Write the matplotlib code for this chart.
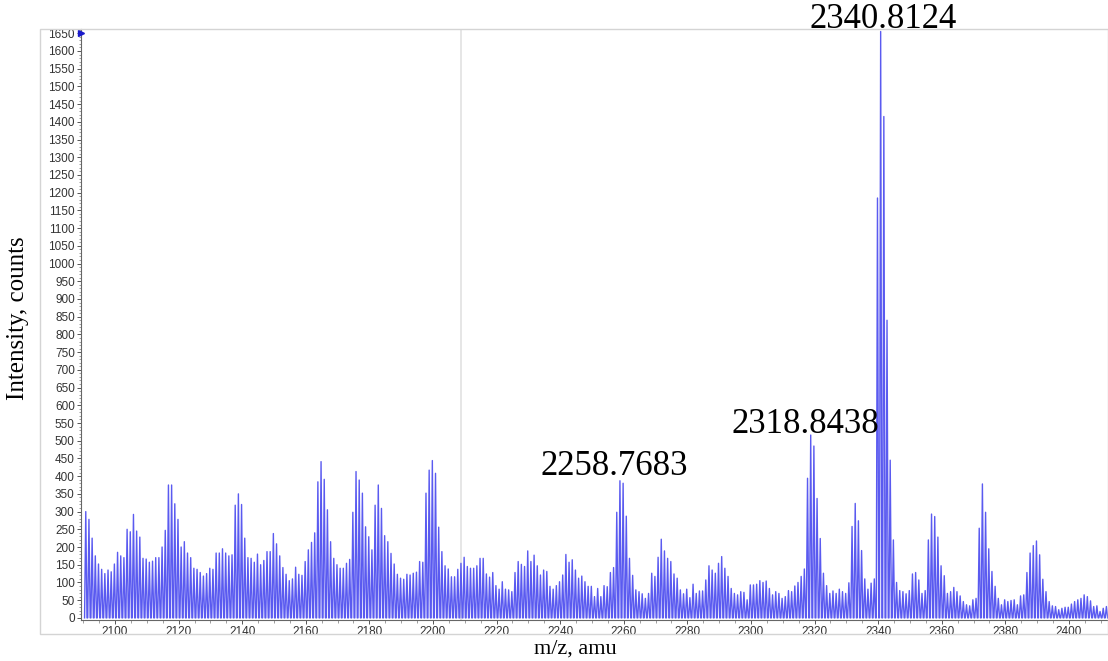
import numpy as np
import matplotlib.pyplot as plt
from matplotlib.ticker import MultipleLocator
from matplotlib.patches import Rectangle

# === DATA (peak heights, one per 1 amu, first peak at m/z 2090.8) ===
MZ_FIRST = 2090.8
heights = [
    300, 278, 225, 175, 152, 137, 125, 135, 130, 152,
    185, 175, 170, 250, 243, 292, 245, 228, 168, 166,
    157, 160, 170, 170, 200, 247, 375, 375, 322, 278,
    200, 215, 183, 170, 140, 137, 128, 118, 125, 140,
    137, 183, 183, 195, 183, 175, 178, 318, 350, 320,
    225, 170, 168, 157, 180, 150, 162, 187, 187, 238,
    209, 175, 142, 123, 105, 110, 143, 123, 120, 159,
    192, 213, 240, 384, 441, 391, 305, 215, 168, 150,
    140, 140, 154, 165, 298, 413, 389, 352, 257, 229,
    192, 318, 375, 309, 232, 215, 182, 152, 123, 112,
    109, 123, 121, 126, 129, 159, 157, 352, 417, 444,
    408, 256, 187, 147, 138, 116, 116, 137, 154, 171,
    145, 140, 140, 147, 168, 168, 124, 115, 128, 91,
    81, 102, 81, 79, 74, 128, 159, 151, 145, 189,
    159, 177, 147, 121, 135, 131, 89, 81, 91, 102,
    121, 179, 157, 164, 135, 112, 118, 102, 89, 89,
    60, 83, 60, 91, 88, 128, 142, 298, 387, 380,
    287, 168, 120, 79, 74, 68, 55, 69, 126, 117,
    171, 222, 189, 168, 159, 124, 112, 79, 68, 81,
    57, 95, 69, 76, 76, 107, 147, 135, 126, 154,
    173, 140, 117, 83, 69, 65, 74, 72, 51, 93,
    93, 95, 105, 100, 104, 83, 65, 74, 69, 55,
    60, 77, 74, 90, 100, 117, 138, 394, 516, 485,
    337, 224, 126, 91, 69, 76, 69, 81, 74, 69,
    99, 258, 323, 274, 190, 110, 81, 98, 110, 1185,
    1655, 1415, 840, 445, 220, 100, 77, 74, 68, 77,
    124, 128, 107, 69, 77, 220, 293, 286, 228, 147,
    119, 69, 74, 86, 74, 62, 46, 37, 34, 51,
    55, 253, 378, 298, 195, 131, 89, 55, 37, 51,
    46, 49, 51, 37, 62, 65, 128, 183, 204, 217,
    178, 109, 74, 46, 34, 32, 23, 27, 30, 30,
    39, 46, 51, 55, 65, 60, 48, 32, 34, 18,
    27, 32,
]
labels_mz = [2258.7683, 2318.8438, 2340.8124]
cursor_mz = 2208.8

h = np.array(heights, dtype=float)
mz = MZ_FIRST + np.arange(len(h))

# narrow triangular profile per peak
w = 0.38
xs = np.column_stack([mz - w, mz, mz + w]).ravel()
ys = np.column_stack([np.zeros_like(h), h, np.zeros_like(h)]).ravel()

# === FIGURE ===
W, H = 1108, 661
fig = plt.figure(figsize=(W / 100, H / 100), dpi=100)
ax = fig.add_axes([81 / W, 1 - 620 / H, (W - 81) / W, (620 - 29) / H])

# outer light frame
fig.patches.append(Rectangle((40 / W, 1 - 634 / H), (W - 40) / W, (634 - 29) / H,
                             transform=fig.transFigure, fill=False,
                             edgecolor="#d4d4d4", lw=1.0, zorder=0))

ax.axvline(cursor_mz, color="#e2e2e2", lw=1.2, zorder=0)
ax.plot(xs, ys, color="#5a5af0", lw=1.0, zorder=2)

ax.set_xlim(2089.3, 2412.3)
ax.set_ylim(-6, 1662)

ax.xaxis.set_major_locator(MultipleLocator(20))
ax.xaxis.set_minor_locator(MultipleLocator(5))
ax.yaxis.set_major_locator(MultipleLocator(50))
ax.yaxis.set_minor_locator(MultipleLocator(10))
ax.tick_params(axis="both", which="major", labelsize=8.5, colors="#555555",
               labelcolor="#333333", length=3, width=0.7, pad=1.5)
ax.tick_params(axis="both", which="minor", colors="#777777", length=1.8, width=0.5)
for lab in ax.get_xticklabels() + ax.get_yticklabels():
    lab.set_family("Liberation Sans")

for s in ["top", "right"]:
    ax.spines[s].set_visible(False)
for s in ["left", "bottom"]:
    ax.spines[s].set_color("#666666")
    ax.spines[s].set_linewidth(0.8)

# marker at top of y axis
ax.plot(2089.3, 1650, marker=">", color="#1a1acc", markersize=5, clip_on=False, zorder=5)

# peak labels
offsets = {2258.7683: (-6, 6), 2318.8438: (-5, 2), 2340.8124: (2, 3)}
for m in labels_mz:
    i = int(np.argmin(np.abs(mz - m)))
    dx, dy = offsets[m]
    ax.annotate(f"{m:.4f}", xy=(mz[i], h[i]), xytext=(dx * 0.72, dy * 0.72),
                textcoords="offset points", ha="center", va="baseline",
                fontsize=25, family="Liberation Serif", annotation_clip=False)

fig.text(18 / W, 1 - 318 / H, "Intensity, counts", rotation=90, ha="center", va="center",
         fontsize=18, family="Liberation Serif")
fig.text(575 / W, 1 - 649 / H, "m/z, amu", ha="center", va="center",
         fontsize=16, family="Liberation Serif")

fig.savefig("out.png", dpi=100)
